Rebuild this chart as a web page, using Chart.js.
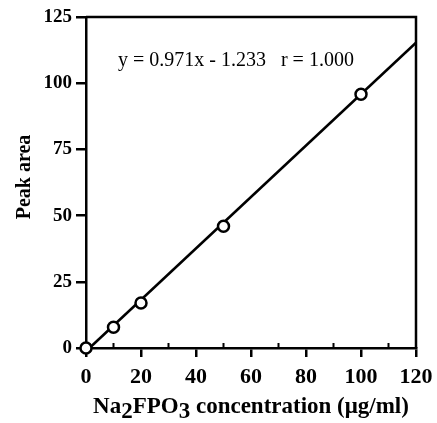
<!DOCTYPE html>
<html>
<head>
<meta charset="utf-8">
<script src="https://cdn.jsdelivr.net/npm/chart.js@4"></script>
<style>
html,body{margin:0;padding:0;background:#fff;}
#wrap{width:437px;height:423px;}
</style>
</head>
<body>
<div id="wrap"><canvas id="c" width="437" height="423"></canvas></div>
<script>
const concX = [0, 10, 20, 50, 100];
const peakY = [0, 7.8, 17, 46, 95.8];
const fitX = [1.27, 120];
const fitY = [0, 115.3];
const xTicks = [0, 20, 40, 60, 80, 100, 120];
const yTicks = [0, 25, 50, 75, 100, 125];
const xMinorTicks = [10, 30, 50, 70, 90, 110];
const equationText = 'y = 0.971x - 1.233   r = 1.000';
const yTitle = 'Peak area';
const xTitleParts = [['Na', 0], ['2', 1], ['FPO', 0], ['3', 1], [' concentration (\u03bcg/ml)', 0]];

const SERIF = "'Liberation Serif', 'Times New Roman', serif";

const decor = {
  id: 'decor',
  afterDraw(chart) {
    const ctx = chart.ctx;
    const a = chart.chartArea;
    const xs = chart.scales.x;
    ctx.save();
    ctx.strokeStyle = '#000';
    ctx.lineWidth = 2.5;
    // box top & right
    ctx.beginPath();
    ctx.moveTo(a.left, a.top);
    ctx.lineTo(a.right, a.top);
    ctx.lineTo(a.right, a.bottom);
    ctx.stroke();
    // minor ticks inside
    ctx.lineWidth = 2;
    ctx.beginPath();
    xMinorTicks.forEach(v => {
      const px = xs.getPixelForValue(v);
      ctx.moveTo(px, a.bottom);
      ctx.lineTo(px, a.bottom - 5);
    });
    ctx.stroke();
    // equation
    ctx.fillStyle = '#000';
    ctx.font = '20px ' + SERIF;
    ctx.textBaseline = 'alphabetic';
    ctx.textAlign = 'left';
    ctx.fillText(equationText, a.left + 32, 66);
    // y title
    ctx.save();
    ctx.font = 'bold 20px ' + SERIF;
    ctx.translate(30, 177);
    ctx.rotate(-Math.PI / 2);
    ctx.textAlign = 'center';
    ctx.fillText(yTitle, 0, 0);
    ctx.restore();
    // x title with subscripts
    ctx.font = 'bold 23px ' + SERIF;
    let total = 0;
    xTitleParts.forEach(p => total += ctx.measureText(p[0]).width);
    let x = 251 - total / 2;
    const base = 413;
    xTitleParts.forEach(p => {
      ctx.fillText(p[0], x, base + (p[1] ? 5 : 0));
      x += ctx.measureText(p[0]).width;
    });
    ctx.restore();
  }
};

new Chart(document.getElementById('c'), {
  type: 'scatter',
  data: {
    datasets: [
      {
        type: 'line',
        data: fitX.map((v, i) => ({x: v, y: fitY[i]})),
        borderColor: '#000',
        borderWidth: 2.6,
        pointRadius: 0,
        fill: false,
        order: 2
      },
      {
        data: concX.map((v, i) => ({x: v, y: peakY[i]})),
        pointRadius: 5.5,
        pointBorderWidth: 2.5,
        borderColor: '#000',
        backgroundColor: '#fff',
        pointBackgroundColor: '#fff',
        pointBorderColor: '#000',
        clip: false,
        order: 1
      }
    ]
  },
  options: {
    responsive: false,
    animation: false,
    events: [],
    layout: {padding: {left: 0, right: 21, top: 17, bottom: 0}},
    plugins: {legend: {display: false}, tooltip: {enabled: false}},
    scales: {
      x: {
        type: 'linear',
        min: 0, max: 120,
        afterBuildTicks: s => { s.ticks = xTicks.map(v => ({value: v})); },
        afterFit: s => { s.height = 75; s.paddingLeft = 0; s.paddingRight = 0; },
        ticks: {color: '#000', font: {family: SERIF, size: 22, weight: 'bold'}, padding: 7, maxRotation: 0},
        grid: {drawOnChartArea: false, tickLength: 9, color: '#000', lineWidth: 2.5},
        border: {color: '#000', width: 2.5}
      },
      y: {
        min: 0, max: 125,
        afterBuildTicks: s => { s.ticks = yTicks.map(v => ({value: v})); },
        afterFit: s => { s.width = 86; s.paddingTop = 0; s.paddingBottom = 0; },
        ticks: {color: '#000', font: {family: SERIF, size: 19, weight: 'bold'}, padding: 4},
        grid: {drawOnChartArea: false, tickLength: 10, color: '#000', lineWidth: 2.5},
        border: {color: '#000', width: 2.5}
      }
    }
  },
  plugins: [decor]
});
</script>
</body>
</html>
